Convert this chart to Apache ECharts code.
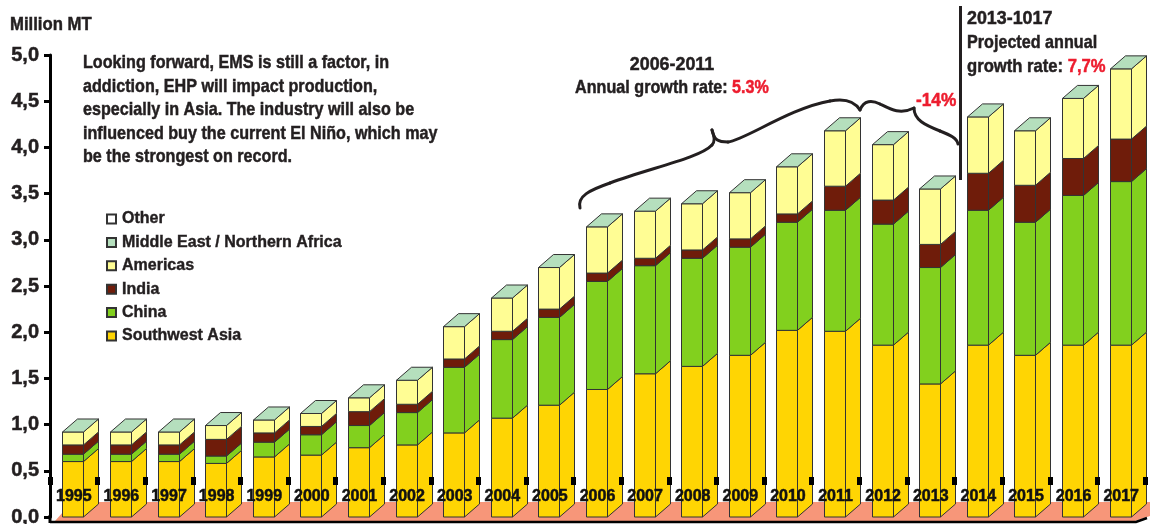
<!DOCTYPE html>
<html>
<head>
<meta charset="utf-8">
<style>html,body{margin:0;padding:0;background:#fff}#chart{width:1150px;height:524px}</style>
<script src="https://cdn.jsdelivr.net/npm/echarts@6/dist/echarts.min.js"></script>
</head>
<body>
<div id="chart"></div>
<script>
const years = ['1995','1996','1997','1998','1999','2000','2001','2002','2003','2004','2005','2006','2007','2008','2009','2010','2011','2012','2013','2014','2015','2016','2017'];
const southwestAsia = [0.60,0.60,0.60,0.58,0.65,0.67,0.75,0.78,0.91,1.07,1.21,1.38,1.55,1.63,1.75,2.02,2.01,1.86,1.44,1.86,1.75,1.86,1.86];
const china = [0.08,0.08,0.08,0.08,0.16,0.22,0.24,0.35,0.71,0.85,0.95,1.17,1.17,1.17,1.17,1.17,1.31,1.31,1.26,1.46,1.44,1.62,1.77];
const india = [0.10,0.10,0.10,0.18,0.10,0.09,0.15,0.09,0.09,0.09,0.09,0.09,0.08,0.09,0.09,0.09,0.26,0.26,0.25,0.40,0.40,0.40,0.46];
const americas = [0.14,0.14,0.14,0.15,0.14,0.14,0.15,0.26,0.35,0.36,0.45,0.50,0.51,0.50,0.50,0.51,0.60,0.60,0.60,0.61,0.59,0.65,0.76];
const middleEast = years.map(() => 0);
const other = years.map(() => 0);
const yTicks = { min: 0, max: 5, step: 0.5 };

const regions = [
  { name: 'Southwest Asia', values: southwestAsia, color: '#ffd503' },
  { name: 'China', values: china, color: '#82d01e' },
  { name: 'India', values: india, color: '#6f1c0a' },
  { name: 'Americas', values: americas, color: '#fffd94' },
  { name: 'Middle East / Northern Africa', values: middleEast, color: '#b5dfbd', cap: true },
  { name: 'Other', values: other, color: '#ffffff' }
];

const FONT = '"Liberation Sans", sans-serif';
const INK = '#231f20';
const RED = '#ed1c2e';
const FRONT = 21, DX = 15, DY = 13;
const EDGE = { stroke: '#333', lineWidth: 1 };

// One stacked segment as a front face and a side face; the cap sits on the last region.
function renderBlock(region) {
  return function (params, api) {
    const i = api.value(0);
    const top = api.coord([i, api.value(1)]);
    const base = api.coord([i, api.value(2)]);
    const x0 = Math.round(top[0] - FRONT / 2 - 1) + 0.5;
    const x1 = x0 + FRONT;
    const children = [];
    const face = pts => ({
      type: 'polygon',
      shape: { points: pts },
      style: Object.assign({ fill: region.color }, EDGE)
    });
    if (base[1] - top[1] > 0) {
      children.push(face([[x0, top[1]], [x1, top[1]], [x1, base[1]], [x0, base[1]]]));
      children.push(face([[x1, top[1]], [x1 + DX, top[1] - DY], [x1 + DX, base[1] - DY], [x1, base[1]]]));
    }
    if (region.cap) {
      children.push(face([[x0, top[1]], [x0 + DX, top[1] - DY], [x1 + DX, top[1] - DY], [x1, top[1]]]));
    }
    return { type: 'group', children };
  };
}

// Salmon floor plane and the baseline under it, sized from the plot rectangle.
function renderFloor(params) {
  const c = params.coordSys;
  const b = c.y + c.height;
  return {
    type: 'group',
    children: [
      { type: 'polygon', shape: { points: [[c.x + 5, b + 4], [c.x + 22, b - 15], [1150, b - 15], [1150, b - 1], [1135, b + 4]] }, style: { fill: '#f79679' } },
      { type: 'polyline', shape: { points: [[c.x, b + 5], [1136, b + 5], [1147, b + 1]] }, style: { stroke: '#000', lineWidth: 2.5, fill: 'none' } },
      { type: 'line', shape: { x1: c.x, y1: b - 2, x2: c.x, y2: b + 6 }, style: { stroke: '#000', lineWidth: 3 } }
    ]
  };
}

let running = years.map(() => 0);
const blockSeries = regions.map(region => {
  const data = years.map((y, i) => {
    const from = running[i];
    running[i] = from + region.values[i];
    return [y, running[i], from];
  });
  return {
    type: 'custom',
    name: region.name,
    coordinateSystem: 'cartesian2d',
    renderItem: renderBlock(region),
    encode: { x: 0, y: 1 },
    data,
    z: 3,
    silent: true,
    itemStyle: { color: region.color, borderColor: '#333', borderWidth: 1 }
  };
});

// Heading text: a tall bold face squeezed horizontally, with a hairline outline for weight.
const NARROW = 0.85;
const HEAVY = { stroke: INK, lineWidth: 0.5 };
const HEAVY_RED = { stroke: RED, lineWidth: 0.5 };
const label = (x, y, text, extra, squeeze) => ({
  type: 'text', x, y, z: 20, silent: true, scaleX: squeeze || NARROW,
  style: Object.assign({ text, font: 'bold 19px ' + FONT, fill: INK, textVerticalAlign: 'middle' }, HEAVY, extra || {})
});
const richStyles = {
  red: Object.assign({ fill: RED, font: 'bold 19px ' + FONT }, HEAVY_RED),
  ink: Object.assign({ fill: INK, font: 'bold 19px ' + FONT }, HEAVY)
};

const noteLines = [
  'Looking forward, EMS is still a factor, in',
  'addiction, EHP will impact production,',
  'especially in Asia. The industry will also be',
  'influenced buy the current El Niño, which may',
  'be the strongest on record.'
];

// The brace over 2006-2013, as consecutive cubic segments.
const braceStart = [580, 208];
const braceSegments = [
  [577,196, 590,190, 610,183], [650,168, 700,158, 712,145], [716,141, 714,135, 712,130],
  [714,140, 718,142, 728,142], [745,140, 790,108, 830,101], [845,98, 855,102, 860,110],
  [864,100, 872,100, 880,104], [890,109, 900,115, 914,108], [914,120, 925,125, 940,131],
  [950,135, 957,138, 958,144]
];
let bracePen = braceStart;
const braceCurves = braceSegments.map(s => {
  const el = {
    type: 'bezierCurve', z: 20, silent: true,
    shape: { x1: bracePen[0], y1: bracePen[1], cpx1: s[0], cpy1: s[1], cpx2: s[2], cpy2: s[3], x2: s[4], y2: s[5] },
    style: { stroke: INK, lineWidth: 3, fill: 'none', lineCap: 'round' }
  };
  bracePen = [s[4], s[5]];
  return el;
});

const chart = echarts.init(document.getElementById('chart'), null, { renderer: 'canvas' });
chart.setOption({
  animation: false,
  backgroundColor: '#fff',
  grid: { left: 50, top: 55, width: 1095, height: 462, containLabel: false, outerBoundsMode: 'none' },
  legend: {
    orient: 'vertical', left: 101, top: 205,
    itemWidth: 9, itemHeight: 9, itemGap: 5.4, selectedMode: false,
    data: regions.slice().reverse().map(r => r.name),
    icon: 'rect',
    textStyle: { fontFamily: FONT, fontWeight: 'bold', fontSize: 16, lineHeight: 18, color: INK, padding: [0, 0, 0, 1], textBorderColor: INK, textBorderWidth: 0.4 }
  },
  xAxis: {
    type: 'category', data: years, z: 6, offset: -40,
    axisLine: { show: false },
    axisTick: { show: true, length: 8, lineStyle: { color: '#000', width: 5 } },
    axisLabel: { interval: 0, margin: 12, fontFamily: FONT, fontWeight: 'bold', fontSize: 16, color: '#111', textBorderColor: '#111', textBorderWidth: 0.5 },
    splitLine: { show: false }
  },
  yAxis: {
    type: 'value', min: yTicks.min, max: yTicks.max, interval: yTicks.step,
    axisLine: { show: true, lineStyle: { color: '#000', width: 3 } },
    axisTick: { show: true, length: 6, lineStyle: { color: '#000', width: 3 } },
    axisLabel: { margin: 11, fontFamily: FONT, fontWeight: 'bold', fontSize: 20, color: INK, textBorderColor: INK, textBorderWidth: 0.5, formatter: v => v.toFixed(1).replace('.', ',') },
    splitLine: { show: false }
  },
  series: [{
    type: 'custom', name: 'floor', coordinateSystem: 'cartesian2d', silent: true, z: 1,
    renderItem: renderFloor, encode: { x: 0, y: 1 }, data: [[years[0], 0]], clip: false
  }].concat(blockSeries),
  graphic: [
    label(10, 25, 'Million MT', null, 0.88),
    ...noteLines.map((t, i) => label(83, 63 + i * 23.5, t)),
    label(672, 65, '2006-2011', { textAlign: 'center' }, 0.94),
    label(672, 88, '{ink|Annual growth rate: }{red|5.3%}', { textAlign: 'center', rich: richStyles }),
    label(916, 101, '-14%', { fill: RED, stroke: RED }, 0.91),
    label(967, 19, '2013-1017', null, 0.94),
    label(967, 43, 'Projected annual'),
    label(967, 67, '{ink|growth rate: }{red|7,7%}', { rich: richStyles }, 0.875),
    { type: 'line', z: 20, silent: true, shape: { x1: 960.5, y1: 6, x2: 960.5, y2: 180 }, style: { stroke: INK, lineWidth: 3 } },
    ...braceCurves
  ]
});
</script>
</body>
</html>
